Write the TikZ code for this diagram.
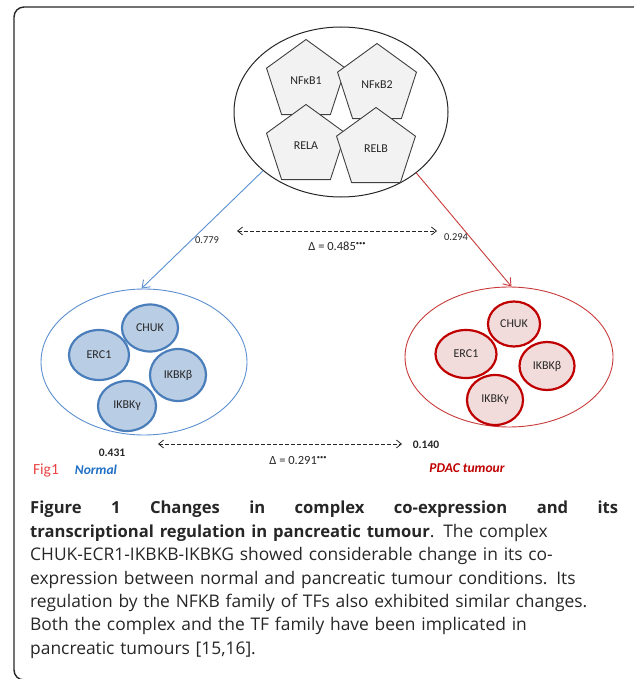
\documentclass[tikz,border=0pt]{standalone}
\usepackage{fontspec}
\setmainfont{Open Sans}
\newfontfamily\capfont{Open Sans}
\newfontfamily\carl{Carlito}
\usetikzlibrary{shapes.geometric,arrows.meta}
\definecolor{pentfill}{HTML}{F2F2F2}
\definecolor{pentline}{HTML}{404040}
\definecolor{bluefill}{HTML}{B9CDE5}
\definecolor{bluestroke}{HTML}{4A7EBB}
\definecolor{blueline}{HTML}{5B8FCF}
\definecolor{bluetext}{HTML}{1F6FC5}
\definecolor{redfill}{HTML}{F2DCDB}
\definecolor{redstroke}{HTML}{C00000}
\definecolor{redline}{HTML}{C83A3A}
\definecolor{figred}{HTML}{E84545}
\definecolor{txt}{HTML}{262626}
\newcommand{\capbold}{\fontsize{16.6}{23.4}\selectfont\bfseries}
\begin{document}
\begin{tikzpicture}[x=1pt,y=-1pt,
  frame/.style={draw=black!85, line width=1.4pt, rounded corners=10pt},
  pent/.style={regular polygon, regular polygon sides=5, minimum size=83pt, inner sep=0pt, outer sep=0pt,
    draw=pentline, fill=pentfill, line width=0.9pt, text=txt,
    font=\carl\fontsize{12}{14}\selectfont},
  group/.style={ellipse, inner sep=0pt},
  bcirc/.style={ellipse, draw=bluestroke, fill=bluefill, line width=2.2pt, inner sep=0pt,
    text=txt, font=\carl\fontsize{12}{14}\selectfont},
  rcirc/.style={ellipse, draw=redstroke, fill=redfill, line width=2.2pt, inner sep=0pt,
    text=txt, font=\carl\fontsize{12}{14}\selectfont},
  lbl/.style={inner sep=0pt, text=txt, font=\carl\fontsize{10.5}{12}\selectfont},
  dlbl/.style={inner sep=0pt, text=txt, font=\carl\fontsize{12.5}{14}\selectfont},
  dasharrow/.style={dashed, dash pattern=on 3.5pt off 2.5pt, line width=0.8pt, black!85, {Straight Barb[length=5pt,width=8pt]}-{Straight Barb[length=5pt,width=8pt]}},
  tipline/.style={line width=0.9pt, -{Straight Barb[length=7pt,width=10pt]}}
]
\useasboundingbox (0,0) rectangle (633,679);
\draw[frame] (645,7) -- (14,7) -- (14,680) -- (645,680);

% top group
\node[group, draw=black!85, line width=1pt, minimum width=214pt, minimum height=170pt] (top) at (341,112) {};
\node[pent] (nf1) at (306,81) {NFκB1};
\node[pent] (nf2) at (377,85) {NFκB2};
\node[pent] (rela) at (306,146) {RELA};
\node[pent] (relb) at (376,149) {RELB};

% normal group
\node[group, draw=blueline, line width=0.9pt, minimum width=206pt, minimum height=146pt] (normal) at (144,362) {};
\node[bcirc, minimum width=56pt, minimum height=47pt] (bchuk) at (150,328) {CHUK};
\node[bcirc, minimum width=60pt, minimum height=50pt] (berc) at (99,355) {ERC1};
\node[bcirc, minimum width=56pt, minimum height=52pt] (bikb) at (178,375) {IKBKβ};
\node[bcirc, minimum width=58pt, minimum height=50pt] (bikg) at (127,406) {IKBKγ};

% tumour group
\node[group, draw=redline, line width=0.9pt, minimum width=208pt, minimum height=140pt] (tumour) at (509,357) {};
\node[rcirc, minimum width=52pt, minimum height=45pt] (rchuk) at (514,324) {CHUK};
\node[rcirc, minimum width=61pt, minimum height=48pt] (rerc) at (466,354) {ERC1};
\node[rcirc, minimum width=55pt, minimum height=48pt] (rikb) at (547,366) {IKBKβ};
\node[rcirc, minimum width=56pt, minimum height=50pt] (rikg) at (495,400) {IKBKγ};

% regulation arrows
\draw[tipline, blueline] (top.217) -- (normal.92);
\draw[tipline, redline] (top.321) -- (tumour.88);

% labels top
\node[lbl] (v779) at (207,240) {0.779};
\node[lbl] (v294) at (456,237) {0.294};
\coordinate (ta) at (237,231);
\coordinate (tb) at (437,231);
\draw[dasharrow] (ta) -- (tb);
\node[dlbl] (d1) at (337,246) {Δ = 0.485\raisebox{4.5pt}{\fontsize{6.5}{6.5}\selectfont •••}};

% labels bottom
\node[inner sep=0pt, text=txt, font=\carl\bfseries\fontsize{11.5}{13}\selectfont] (v431) at (112,453) {0.431};
\node[inner sep=0pt, text=txt, font=\carl\bfseries\fontsize{11.5}{13}\selectfont] (v140) at (426,445) {0.140};
\coordinate (ba) at (158,444);
\coordinate (bb) at (402,444);
\draw[dasharrow] (ba) -- (bb);
\node[dlbl] (d2) at (298,460) {Δ = 0.291\raisebox{4.5pt}{\fontsize{6.5}{6.5}\selectfont •••}};
\node[inner sep=0pt, text=figred, font=\carl\fontsize{15.5}{17}\selectfont] (fig1) at (46,470) {Fig1};
\node[inner sep=0pt, text=bluetext, font=\carl\bfseries\itshape\fontsize{13.5}{15}\selectfont] (normlbl) at (96,470) {Normal};
\node[inner sep=0pt, text=redstroke, font=\carl\bfseries\itshape\fontsize{13.5}{15}\selectfont] (pdac) at (467,468) {PDAC tumour};

% caption
\node[anchor=north west, inner sep=0pt, text width=588pt, align=left, text=txt,
  font=\capfont\fontsize{17.4}{23.4}\selectfont] (cap) at (30,501) {%
\hbox to 588pt{\capbold Figure\hfill 1\hfill Changes\hfill in\hfill complex\hfill co-expression\hfill and\hfill its}\\
{\capbold transcriptional regulation in pancreatic tumour}. The complex\\
CHUK-ECR1-IKBKB-IKBKG showed considerable change in its co-\\
expression between normal and pancreatic tumour conditions. Its\\
regulation by the NFKB family of TFs also exhibited similar changes.\\
Both the complex and the TF family have been implicated in\\
pancreatic tumours [15,16].};
\end{tikzpicture}
\end{document}
